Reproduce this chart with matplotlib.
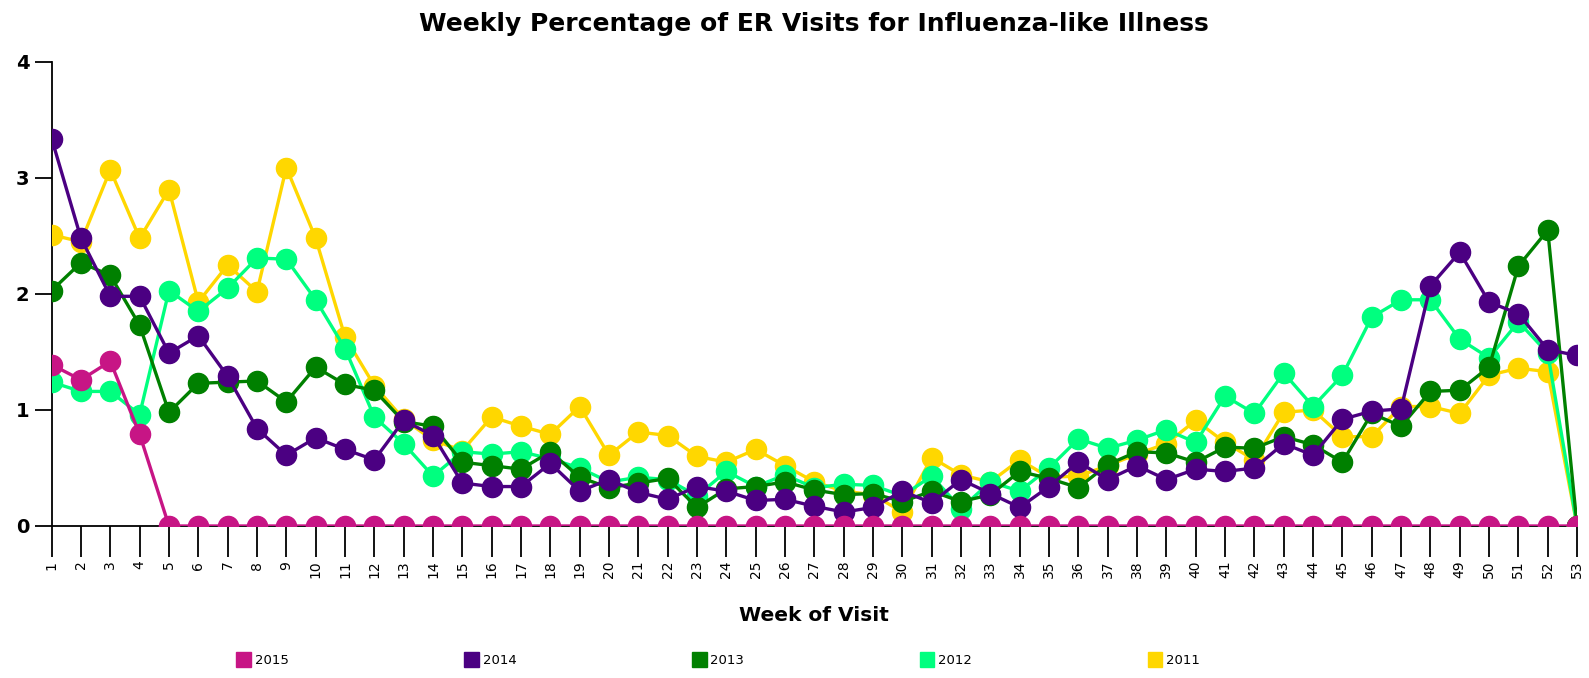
import matplotlib
matplotlib.use('Agg')
import matplotlib.pyplot as plt
from matplotlib.patches import Patch

weeks = list(range(1, 54))

y2015 = [1.39, 1.26, 1.42, 0.79, 0.0, 0.0, 0.0, 0.0, 0.0, 0.0,
         0.0, 0.0, 0.0, 0.0, 0.0, 0.0, 0.0, 0.0, 0.0, 0.0,
         0.0, 0.0, 0.0, 0.0, 0.0, 0.0, 0.0, 0.0, 0.0, 0.0,
         0.0, 0.0, 0.0, 0.0, 0.0, 0.0, 0.0, 0.0, 0.0, 0.0,
         0.0, 0.0, 0.0, 0.0, 0.0, 0.0, 0.0, 0.0, 0.0, 0.0,
         0.0, 0.0, 0.0]
y2014 = [3.34, 2.48, 1.98, 1.98, 1.49, 1.64, 1.29, 0.84, 0.61, 0.76,
         0.66, 0.57, 0.91, 0.78, 0.37, 0.34, 0.34, 0.54, 0.30, 0.40,
         0.29, 0.23, 0.34, 0.30, 0.22, 0.23, 0.17, 0.12, 0.16, 0.30,
         0.20, 0.40, 0.28, 0.16, 0.34, 0.55, 0.40, 0.52, 0.40, 0.49,
         0.47, 0.50, 0.71, 0.61, 0.92, 0.99, 1.01, 2.07, 2.36, 1.93,
         1.83, 1.52, 1.47]
y2013 = [2.03, 2.27, 2.16, 1.73, 0.98, 1.23, 1.24, 1.25, 1.07, 1.37,
         1.22, 1.17, 0.90, 0.86, 0.55, 0.52, 0.49, 0.64, 0.42, 0.33,
         0.37, 0.41, 0.16, 0.32, 0.34, 0.38, 0.31, 0.27, 0.28, 0.21,
         0.30, 0.21, 0.27, 0.47, 0.41, 0.33, 0.53, 0.64, 0.63, 0.55,
         0.68, 0.67, 0.77, 0.70, 0.55, 0.97, 0.86, 1.16, 1.17, 1.37,
         2.24, 2.55, 0.0]
y2012 = [1.24, 1.16, 1.16, 0.96, 2.03, 1.85, 2.05, 2.31, 2.30, 1.95,
         1.53, 0.94, 0.71, 0.43, 0.64, 0.62, 0.64, 0.58, 0.50, 0.38,
         0.42, 0.40, 0.26, 0.47, 0.34, 0.44, 0.33, 0.36, 0.35, 0.26,
         0.43, 0.15, 0.38, 0.30, 0.50, 0.75, 0.67, 0.74, 0.83, 0.72,
         1.12, 0.97, 1.32, 1.03, 1.30, 1.80, 1.95, 1.95, 1.61, 1.45,
         1.76, 1.49, 0.0]
y2011 = [2.51, 2.45, 3.07, 2.48, 2.90, 1.93, 2.25, 2.02, 3.09, 2.48,
         1.63, 1.21, 0.92, 0.74, 0.65, 0.94, 0.86, 0.79, 1.03, 0.61,
         0.81, 0.78, 0.60, 0.55, 0.66, 0.52, 0.38, 0.30, 0.27, 0.12,
         0.59, 0.44, 0.38, 0.57, 0.42, 0.43, 0.52, 0.62, 0.71, 0.91,
         0.72, 0.57, 0.98, 1.00, 0.77, 0.77, 1.03, 1.03, 0.97, 1.30,
         1.36, 1.33, 0.0]

years = ['2015', '2014', '2013', '2012', '2011']
series = [y2015, y2014, y2013, y2012, y2011]
colors = ['#C71585', '#4B0082', '#008000', '#00FF7F', '#FFD700']

fig = plt.figure(figsize=(15.89, 6.78), dpi=100)
ax = fig.add_axes([0.0325, 0.2242, 0.9600, 0.6844])

# oldest year at the bottom, 2015 on top
for i in range(len(years) - 1, -1, -1):
    ax.plot(weeks, series[i], color=colors[i], lw=2.4, marker='o',
            markersize=14.5, zorder=10 - i)

ax.set_xlim(1, 53)
ax.set_ylim(0, 4)
ax.set_xticks(weeks)
ax.set_xticklabels([str(w) for w in weeks], rotation=90, fontsize=10)
ax.set_yticks([0, 1, 2, 3, 4])
ax.set_yticklabels(['0', '1', '2', '3', '4'], fontsize=14, fontweight='bold')
ax.tick_params(axis='x', direction='out', length=22, width=1.3, pad=3)
ax.tick_params(axis='y', direction='out', length=12, width=1.3, pad=4)
for s in ['top', 'right']:
    ax.spines[s].set_visible(False)
for s in ['left', 'bottom']:
    ax.spines[s].set_linewidth(1.3)

ax.set_title('Weekly Percentage of ER Visits for Influenza-like Illness',
             fontsize=18, fontweight='bold', pad=22)
ax.set_xlabel('Week of Visit', fontsize=14.5, fontweight='bold', labelpad=20)

handles = [Patch(facecolor=c, edgecolor=c) for c in colors]
fig.legend(handles, years, loc='center', bbox_to_anchor=(0.452, 0.027),
           ncol=5, frameon=False, fontsize=9.5, handlelength=1.1,
           handleheight=1.4, handletextpad=0.3, columnspacing=13.3)

fig.savefig('out.png', dpi=100)
